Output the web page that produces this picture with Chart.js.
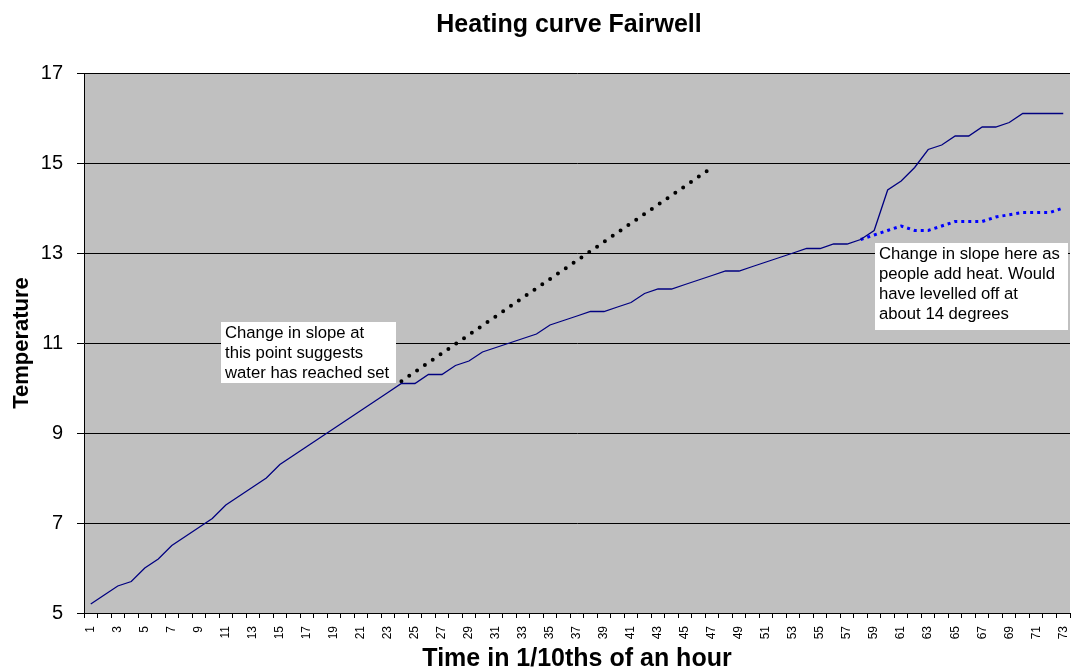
<!DOCTYPE html>
<html>
<head>
<meta charset="utf-8">
<script src="https://cdn.jsdelivr.net/npm/chart.js@4.4.1/dist/chart.umd.min.js"></script>
<style>
  html, body { margin: 0; padding: 0; background: #fff; }
  #wrap { width: 1071px; height: 670px; }
</style>
</head>
<body>
<div id="wrap"><canvas id="chart"></canvas></div>
<script>
// categories: time steps 1..73 (1/10ths of an hour)
var timeSteps = [1,2,3,4,5,6,7,8,9,10,11,12,13,14,15,16,17,18,19,20,
  21,22,23,24,25,26,27,28,29,30,31,32,33,34,35,36,37,38,39,40,
  41,42,43,44,45,46,47,48,49,50,51,52,53,54,55,56,57,58,59,60,
  61,62,63,64,65,66,67,68,69,70,71,72,73];

// measured temperature
var temperature = [5.2,5.4,5.6,5.7,6.0,6.2,6.5,6.7,6.9,7.1,
  7.4,7.6,7.8,8.0,8.3,8.5,8.7,8.9,9.1,9.3,
  9.5,9.7,9.9,10.1,10.1,10.3,10.3,10.5,10.6,10.8,
  10.9,11.0,11.1,11.2,11.4,11.5,11.6,11.7,11.7,11.8,
  11.9,12.1,12.2,12.2,12.3,12.4,12.5,12.6,12.6,12.7,
  12.8,12.9,13.0,13.1,13.1,13.2,13.2,13.3,13.5,14.4,
  14.6,14.9,15.3,15.4,15.6,15.6,15.8,15.8,15.9,16.1,
  16.1,16.1,16.1];

// blue dotted "would have levelled off" line, from step 58 on
var levelSteps = [58,59,60,61,62,63,64,65,66,67,68,69,70,71,72,73];
var levelValues = [13.3,13.4,13.5,13.6,13.5,13.5,13.6,13.7,13.7,13.7,13.8,13.85,13.9,13.9,13.9,14.0];

// black dotted extrapolation of the early slope
var slopeSteps = [24, 47];
var slopeValues = [10.15, 14.9];

var yTicks = [5, 7, 9, 11, 13, 15, 17];

// notes: [step index (fractional), temperature, width, height, lines]
var notes = [
  [9.64, 11.47, 175, 61, ['Change in slope at', 'this point suggests', 'water has reached set']],
  [58.06, 13.22, 193, 87, ['Change in slope here as', 'people add heat. Would', 'have levelled off at', 'about 14 degrees']]
];

function spread(steps, values) {
  var out = timeSteps.map(function () { return null; });
  steps.forEach(function (s, i) { out[timeSteps.indexOf(s)] = values[i]; });
  return out;
}

var FONT = "'Liberation Sans', Arial, sans-serif";
Chart.defaults.font.family = FONT;
Chart.defaults.color = '#000';

var plotBg = {
  id: 'plotBg',
  beforeDraw: function (chart) {
    var c = chart.ctx, a = chart.chartArea;
    c.save();
    c.fillStyle = '#fff';
    c.fillRect(0, 0, chart.width, chart.height);
    c.fillStyle = '#C0C0C0';
    c.fillRect(a.left, a.top, a.right - a.left, a.bottom - a.top);
    c.restore();
  },
  afterDraw: function (chart) {
    var c = chart.ctx;
    c.save();
    c.fillStyle = '#000';
    c.font = 'bold 25px ' + FONT;
    c.textAlign = 'center';
    c.textBaseline = 'middle';
    c.fillText('Heating curve Fairwell', 569, 25);
    c.restore();
  }
};

var noteBoxes = {
  id: 'noteBoxes',
  afterDatasetsDraw: function (chart) {
    var c = chart.ctx, xs = chart.scales.x, ys = chart.scales.y;
    c.save();
    notes.forEach(function (n) {
      var x = Math.round(xs.getPixelForValue(n[0]));
      var y = Math.round(ys.getPixelForValue(n[1]));
      c.fillStyle = '#fff';
      c.fillRect(x, y, n[2], n[3]);
      c.fillStyle = '#000';
      c.font = '16.7px ' + FONT;
      c.textAlign = 'left';
      c.textBaseline = 'middle';
      n[4].forEach(function (t, i) {
        c.fillText(t, x + 4, y + 11 + i * 20);
      });
    });
    c.restore();
  }
};

new Chart(document.getElementById('chart'), {
  type: 'line',
  data: {
    labels: timeSteps,
    datasets: [
      {
        label: 'Temperature',
        data: temperature,
        borderColor: '#000080',
        borderWidth: 1.3,
        pointRadius: 0,
        tension: 0
      },
      {
        label: 'Levelled off',
        data: spread(levelSteps, levelValues),
        borderColor: '#0000FF',
        borderWidth: 3,
        borderDash: [3, 4],
        pointRadius: 0,
        tension: 0
      },
      {
        label: 'Initial slope',
        data: spread(slopeSteps, slopeValues),
        borderColor: '#000',
        borderWidth: 4,
        borderDash: [0, 9.5],
        borderCapStyle: 'round',
        spanGaps: true,
        pointRadius: 0,
        tension: 0
      }
    ]
  },
  options: {
    responsive: true,
    maintainAspectRatio: false,
    animation: false,
    layout: { padding: { top: 73, right: 1, left: 0, bottom: 0 } },
    plugins: {
      legend: { display: false },
      title: { display: false },
      tooltip: { enabled: false }
    },
    scales: {
      x: {
        offset: true,
        grid: { display: true, drawOnChartArea: false, offset: true, color: '#000', tickLength: 5 },
        border: { color: '#000', width: 1 },
        ticks: {
          autoSkip: false, maxRotation: 90, minRotation: 90,
          font: { size: 12 }, color: '#000', padding: 8,
          callback: function (v, i) { return i % 2 === 0 ? String(timeSteps[i]) : ''; }
        },
        title: {
          display: true, text: 'Time in 1/10ths of an hour',
          font: { size: 25, weight: 'bold' }, color: '#000',
          padding: { top: 0, bottom: -4 }
        },
        afterFit: function (s) { s.height = 57; s.paddingLeft = 0; s.paddingRight = 0; }
      },
      y: {
        min: yTicks[0],
        max: yTicks[yTicks.length - 1],
        afterBuildTicks: function (s) { s.ticks = yTicks.map(function (v) { return { value: v }; }); },
        grid: { color: '#000', lineWidth: 1, tickLength: 7 },
        border: { color: '#000', width: 1 },
        ticks: { font: { size: 20 }, color: '#000', padding: 14 },
        title: {
          display: true, text: 'Temperature',
          font: { size: 22, weight: 'bold' }, color: '#000',
          padding: { top: 9, bottom: 0 }
        },
        afterFit: function (s) { s.width = 84; s.paddingTop = 0; s.paddingBottom = 0; }
      }
    }
  },
  plugins: [plotBg, noteBoxes]
});
</script>
</body>
</html>
